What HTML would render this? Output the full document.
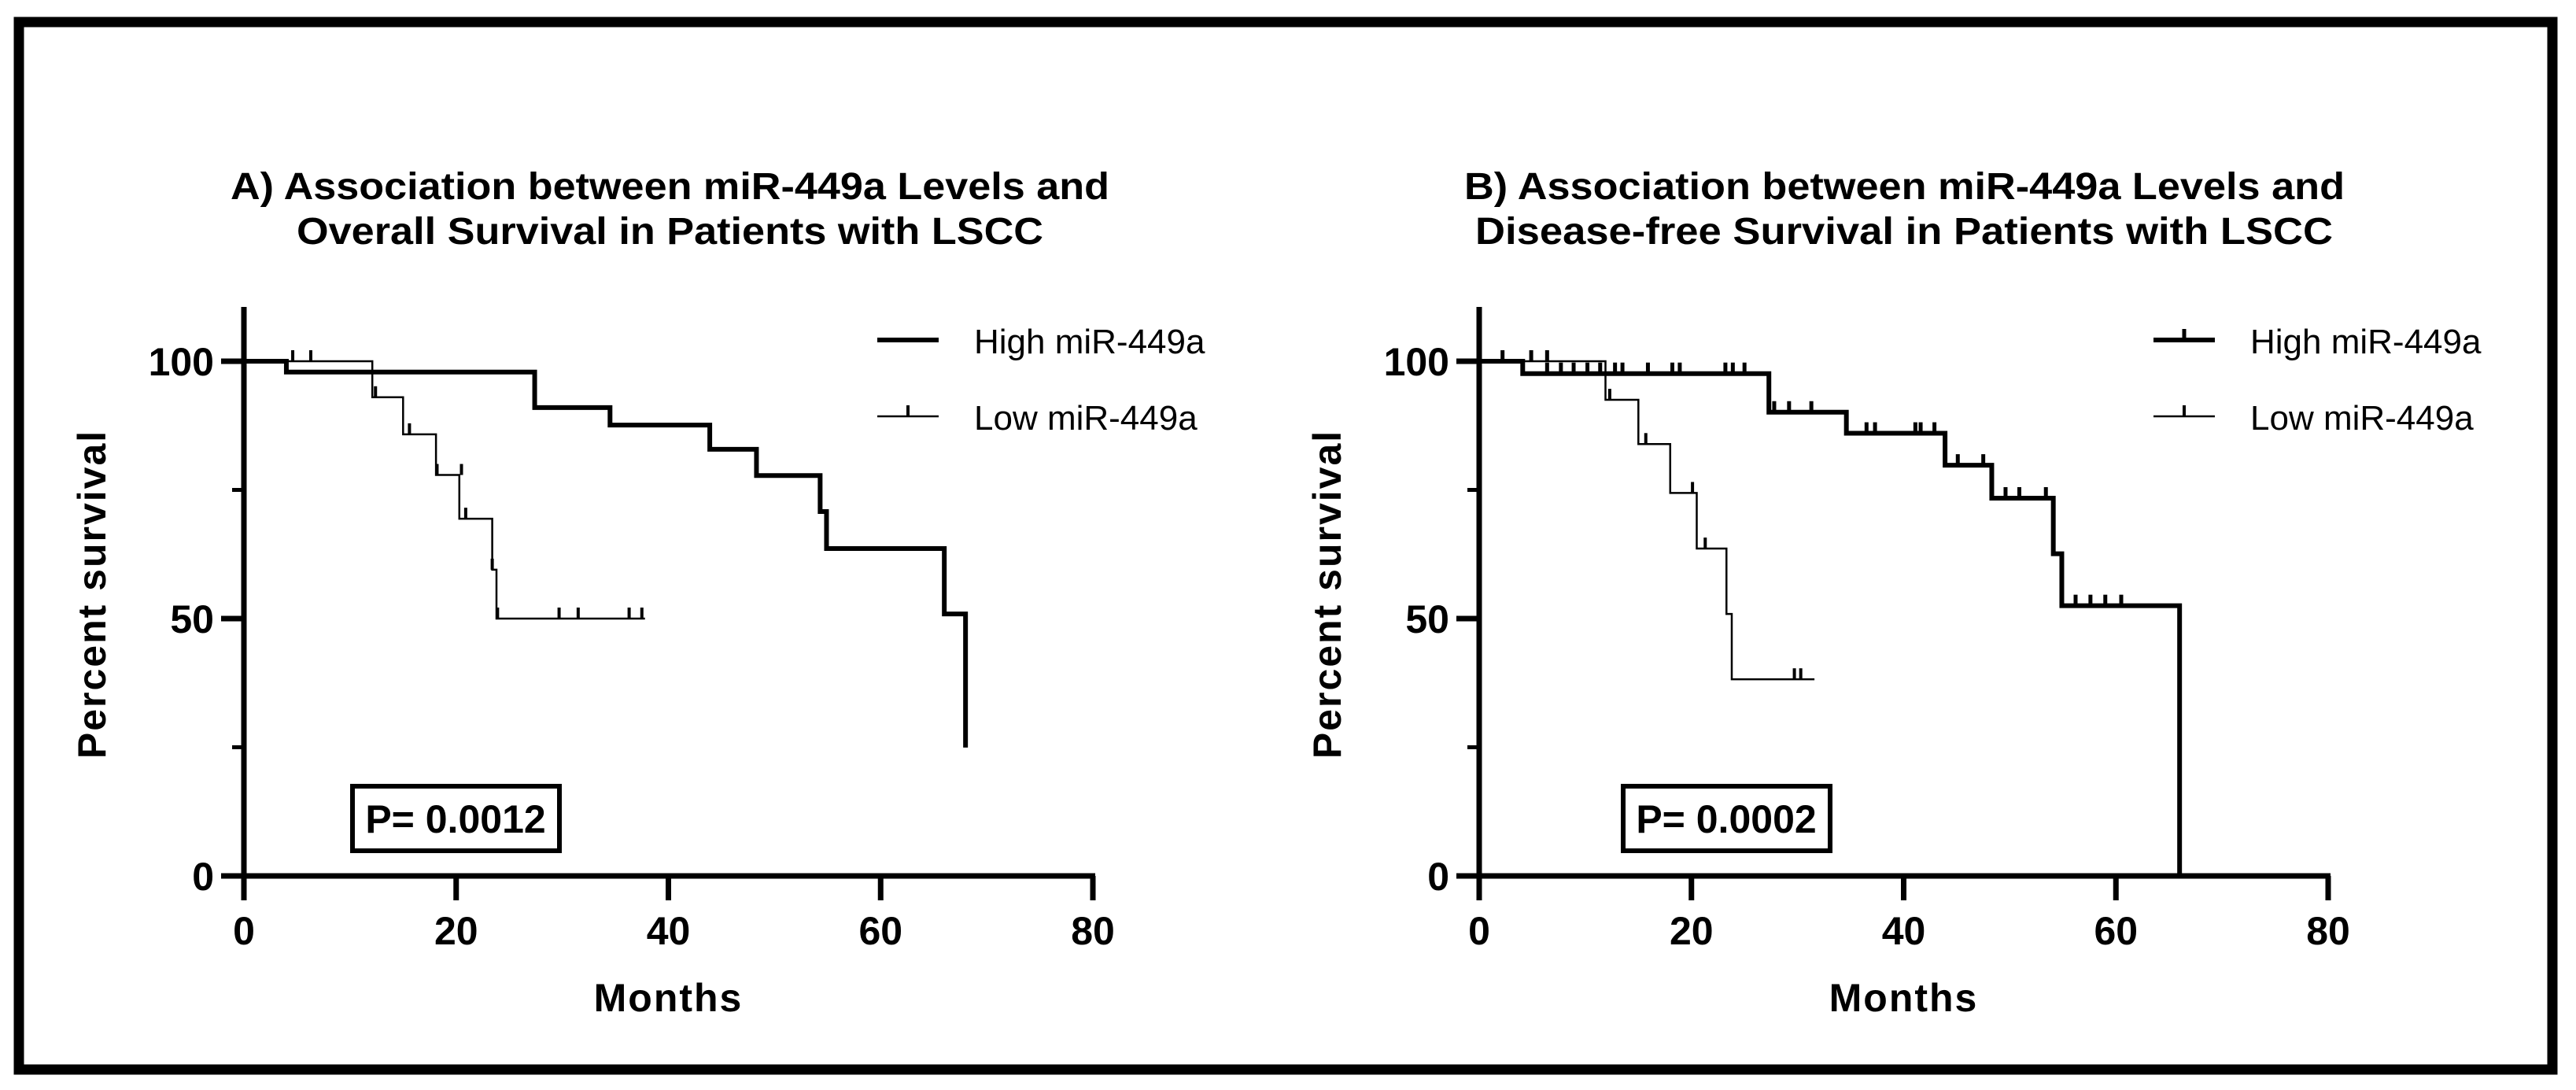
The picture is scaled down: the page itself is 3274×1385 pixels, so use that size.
<!DOCTYPE html>
<html><head><meta charset="utf-8"><style>
html,body{margin:0;padding:0;background:#fff;}
svg{display:block;}
text{font-family:"Liberation Sans",Arial,sans-serif;fill:#000;}
.b{font-weight:bold;}
</style></head><body>
<svg id="fig" width="3274" height="1385" viewBox="0 0 3274 1385" xmlns="http://www.w3.org/2000/svg">
<rect x="24" y="28" width="3220" height="1331" fill="none" stroke="#000" stroke-width="13"/>
<g id="chartA"></g>
<g id="chartB"></g>
</svg>
<script>
// ---- Chart A data (Overall survival) ----
const xTicks = [0, 20, 40, 60, 80];
const yTicks = [0, 50, 100];
const yMinor = [25, 75];
const aHighDrops = [[4,97.9],[27.4,91],[34.5,87.6],[43.9,82.9],[48.3,77.8],[54.3,70.8],[54.9,63.6],[66,50.9],[68,25.4]];
const aHighEnd = 68;
const aHighCens = [];
const aLowDrops = [[12.1,93],[15,85.8],[18.1,77.9],[20.3,69.4],[23.4,59.5],[23.8,50]];
const aLowEnd = 37.7;
const aLowCens = [[4.6,100],[6.3,100],[12.4,93],[15.6,85.8],[18.2,77.9],[20.5,77.9],[20.9,69.4],[23.4,59.5],[23.9,50],[29.7,50],[31.5,50],[36.3,50],[37.5,50]];
// ---- Chart B data (Disease-free survival) ----
const bHighDrops = [[4.1,97.6],[27.3,90.1],[34.6,86],[43.9,79.8],[48.3,73.4],[54.1,62.6],[54.9,52.5],[66,0]];
const bHighEnd = 66;
const bHighCens = [[2.2,100],[4.9,100],[6.4,100],[6.4,97.6],[7.7,97.6],[8.9,97.6],[10.2,97.6],[11.4,97.6],[12.8,97.6],[13.5,97.6],[15.9,97.6],[18.2,97.6],[18.9,97.6],[23.2,97.6],[23.9,97.6],[25.0,97.6],[27.8,90.1],[29.2,90.1],[31.3,90.1],[36.5,86],[37.3,86],[41.1,86],[41.6,86],[42.9,86],[45.1,79.8],[47.5,79.8],[49.6,73.4],[50.9,73.4],[53.4,73.4],[56.2,52.5],[57.6,52.5],[59,52.5],[60.5,52.5]];
const bLowDrops = [[11.9,92.5],[15,83.9],[18,74.4],[20.5,63.6],[23.3,50.9],[23.8,38.2]];
const bLowEnd = 31.5;
const bLowCens = [[12.3,92.5],[15.7,83.9],[20.1,74.4],[21.3,63.6],[29.7,38.2],[30.3,38.2]];

const NS="http://www.w3.org/2000/svg";
function mk(parent,tag,attrs,txt){const e=document.createElementNS(NS,tag);for(const k in attrs)e.setAttribute(k,attrs[k]);if(txt!==undefined)e.textContent=txt;parent.appendChild(e);return e;}

function drawChart(g, cfg){
  const x0=cfg.x0, x1=cfg.x0+1079, y0=1113, yTop=390;
  const sx=v=>x0+(v/80)*(x1-x0);
  const sy=v=>y0-(v/100)*(y0-459);
  // titles
  let t=mk(g,'text',{x:cfg.tx1,y:253,'font-size':48,'class':'b',textLength:cfg.tw1,lengthAdjust:'spacingAndGlyphs'},cfg.title1);
  
  
  t=mk(g,'text',{x:cfg.tx2,y:310,'font-size':48,'class':'b',textLength:cfg.tw2,lengthAdjust:'spacingAndGlyphs'},cfg.title2);
  
  
  // axes
  let a=mk(g,'line',{x1:x0,y1:yTop,x2:x0,y2:y0+3,stroke:'#000','stroke-width':7});
  
  
  a=mk(g,'line',{x1:x0-3,y1:y0,x2:x1+3,y2:y0,stroke:'#000','stroke-width':7});
  
  
  xTicks.forEach(v=>{
    const l=mk(g,'line',{x1:sx(v),y1:y0,x2:sx(v),y2:y0+31,stroke:'#000','stroke-width':7});
    
    
    const tx=mk(g,'text',{x:sx(v),y:1200,'font-size':50,'class':'b','text-anchor':'middle'},String(v));
    
    
  });
  yTicks.forEach(v=>{
    const l=mk(g,'line',{x1:x0-29,y1:sy(v),x2:x0,y2:sy(v),stroke:'#000','stroke-width':7});
    
    
    const tx=mk(g,'text',{x:x0-38,y:sy(v)+18,'font-size':50,'class':'b','text-anchor':'end'},String(v));
    
    
  });
  yMinor.forEach(v=>{
    const l=mk(g,'line',{x1:x0-15,y1:sy(v),x2:x0,y2:sy(v),stroke:'#000','stroke-width':5});
    
    
  });
  t=mk(g,'text',{x:x0-176,y:755,'font-size':50,'class':'b','text-anchor':'middle',transform:`rotate(-90 ${x0-176} 755)`,'letter-spacing':'2'},'Percent survival');
  
  
  t=mk(g,'text',{x:(x0+x1)/2,y:1285,'font-size':50,'class':'b','text-anchor':'middle','letter-spacing':'2'},'Months');
  
  
  // series
  function series(drops,end,cens,w,tw,name){
    let d=`M${sx(0)},${sy(100)}`;
    drops.forEach(p=>{d+=` H${sx(p[0])} V${sy(p[1])}`;});
    const last=drops[drops.length-1];
    if(end>last[0]) d+=` H${sx(end)}`;
    const p=mk(g,'path',{d:d,fill:'none',stroke:'#000','stroke-width':w,'stroke-linejoin':'miter','stroke-linecap':'square'});
    
    
    cens.forEach(c=>{
      const l=mk(g,'line',{x1:sx(c[0]),y1:sy(c[1]),x2:sx(c[0]),y2:sy(c[1])-14,stroke:'#000','stroke-width':tw});
      
      
    });
  }
  series(cfg.hd,cfg.he,cfg.hc,6,5,'high-mir449a');
  series(cfg.ld,cfg.le,cfg.lc,2.5,4,'low-mir449a');
  // legend
  const lx=cfg.lx;
  let l=mk(g,'line',{x1:lx,y1:432,x2:lx+78,y2:432,stroke:'#000','stroke-width':6});
  
  
  if(cfg.legTick){l=mk(g,'line',{x1:lx+39,y1:432,x2:lx+39,y2:418,stroke:'#000','stroke-width':5});
  
  }
  t=mk(g,'text',{x:lx+123,y:449,'font-size':44},'High miR-449a');
  
  
  l=mk(g,'line',{x1:lx,y1:529,x2:lx+78,y2:529,stroke:'#000','stroke-width':2.5});
  
  
  l=mk(g,'line',{x1:lx+39,y1:529,x2:lx+39,y2:515,stroke:'#000','stroke-width':4});
  
  
  t=mk(g,'text',{x:lx+123,y:546,'font-size':44},'Low miR-449a');
  
  
  // p-value box
  const r=mk(g,'rect',{x:cfg.px,y:999,width:263,height:82,fill:'#fff',stroke:'#000','stroke-width':6});
  
  
  t=mk(g,'text',{x:cfg.px+131,y:1058,'font-size':50,'class':'b','text-anchor':'middle'},cfg.pv);
  
  
}
drawChart(document.getElementById('chartA'),{x0:310,tx1:293,tw1:1117,tx2:377,tw2:949,
  title1:'A) Association between miR-449a Levels and',title2:'Overall Survival in Patients with LSCC',
  hd:aHighDrops,he:aHighEnd,hc:aHighCens,ld:aLowDrops,le:aLowEnd,lc:aLowCens,lx:1115,legTick:false,px:448,pv:'P= 0.0012'});
drawChart(document.getElementById('chartB'),{x0:1880,tx1:1861,tw1:1119,tx2:1875,tw2:1090,
  title1:'B) Association between miR-449a Levels and',title2:'Disease-free Survival in Patients with LSCC',
  hd:bHighDrops,he:bHighEnd,hc:bHighCens,ld:bLowDrops,le:bLowEnd,lc:bLowCens,lx:2737,legTick:true,px:2063,pv:'P= 0.0002'});
</script>
</body></html>
